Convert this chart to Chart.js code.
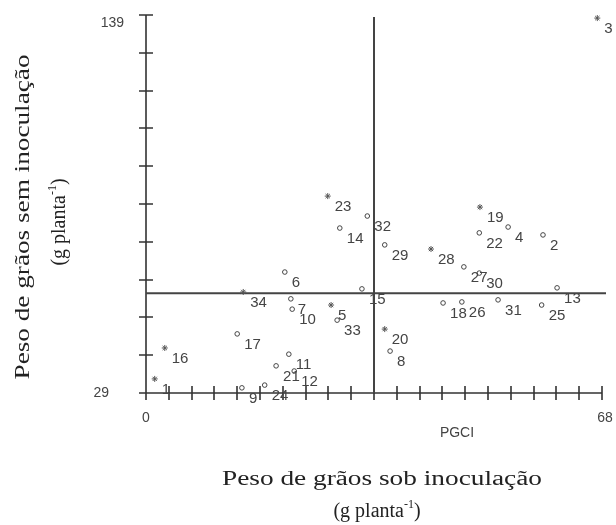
<!DOCTYPE html>
<html>
<head>
<meta charset="utf-8">
<script src="https://cdn.jsdelivr.net/npm/chart.js@4/dist/chart.umd.min.js"></script>
<style>
html,body{margin:0;padding:0;background:#fff;}
canvas{display:block;}
</style>
</head>
<body>
<canvas id="c" width="616" height="525"></canvas>
<script>
// ---- data ----
const pointLabels = ['1','2','3','4','5','6','7','8','9','10','11','12','13','14','15','16','17',
  '18','19','20','21','22','23','24','25','26','27','28','29','30','31','32','33','34'];
const pgci = [1.3,59.2,67.3,54.0,27.6,20.7,21.6,36.4,14.3,21.8,21.3,22.1,61.3,28.9,32.2,2.8,13.6,
  44.3,49.8,35.6,19.4,49.7,27.1,17.7,59.0,47.1,47.4,42.5,35.6,49.7,52.5,33.0,28.5,14.5];
const pgsi = [33.1,75.0,138.1,77.3,54.6,64.2,56.4,41.2,30.5,53.4,40.3,35.4,59.6,77.0,59.3,42.1,46.2,
  55.2,83.1,47.6,36.9,75.6,86.3,31.3,54.6,55.5,65.7,70.9,72.1,63.9,56.1,80.5,50.2,58.4];
const asteriskPoints = ['1','3','5','16','19','20','23','28','34'];
const xTickLabels = ['0','68'];
const yTickLabels = ['29','139'];
const xMin = 0, xMax = 68, xStep = 3.4;
const yMin = 29, yMax = 139, yStep = 11;
const refX = 34;   // vertical reference line
const refY = 58;   // horizontal reference line
const xTitle = ['Peso de grãos sob inoculação', '(g planta', '-1', ')'];
const yTitle = ['Peso de grãos sem inoculação', '(g planta', '-1', ')'];
const xName = 'PGCI';

const circlePts = [], starPts = [];
pointLabels.forEach((l,i)=>{
  const p = {x:pgci[i], y:pgsi[i], label:l};
  (asteriskPoints.includes(l) ? starPts : circlePts).push(p);
});

const INK = '#333';
const SERIF = '"Liberation Serif","Times New Roman",serif';
const SANS = '"Liberation Sans",Arial,sans-serif';

function scaledText(ctx, text, x, y, font, target){
  ctx.font = font;
  const w = ctx.measureText(text).width;
  const s = target ? target / w : 1;
  ctx.save();
  ctx.translate(x, y);
  ctx.scale(s, 1);
  ctx.textAlign = 'center';
  ctx.textBaseline = 'middle';
  ctx.fillText(text, 0, 0);
  ctx.restore();
}
function unitText(ctx, parts, cx, cy, size){
  const f1 = size + 'px ' + SERIF, f2 = Math.round(size*0.6) + 'px ' + SERIF;
  ctx.font = f1; const w1 = ctx.measureText(parts[0]).width; const w3 = ctx.measureText(parts[2]).width;
  ctx.font = f2; const w2 = ctx.measureText(parts[1]).width;
  let x = cx - (w1+w2+w3)/2;
  ctx.textAlign='left'; ctx.textBaseline='middle';
  ctx.font = f1; ctx.fillText(parts[0], x, cy); x += w1;
  ctx.font = f2; ctx.fillText(parts[1], x, cy - size*0.35); x += w2;
  ctx.font = f1; ctx.fillText(parts[2], x, cy);
}

const decor = {
  id:'decor',
  beforeDatasetsDraw(chart){
    const ctx = chart.ctx, xs = chart.scales.x, ys = chart.scales.y;
    const x0 = xs.getPixelForValue(xMin), x1 = xs.getPixelForValue(xMax);
    const y0 = ys.getPixelForValue(yMin), y1 = ys.getPixelForValue(yMax);
    ctx.save();
    ctx.strokeStyle = INK; ctx.lineWidth = 1.6;
    ctx.beginPath();
    ctx.moveTo(x0, y1); ctx.lineTo(x0, y0 + 7);
    ctx.moveTo(x0 - 7, y0); ctx.lineTo(x1, y0);
    for (let v = yMin; v <= yMax + 1e-6; v += yStep){
      const p = Math.round(ys.getPixelForValue(v));
      ctx.moveTo(x0 - 7, p); ctx.lineTo(x0 + 7, p);
    }
    for (let v = xMin; v <= xMax + 1e-6; v += xStep){
      const p = Math.round(xs.getPixelForValue(v));
      ctx.moveTo(p, y0 - 7); ctx.lineTo(p, y0 + 7);
    }
    ctx.stroke();
    ctx.strokeStyle = '#444'; ctx.lineWidth = 2;
    ctx.beginPath();
    const rx = xs.getPixelForValue(refX), ry = ys.getPixelForValue(refY);
    ctx.moveTo(rx, y1 + 2); ctx.lineTo(rx, y0);
    ctx.moveTo(x0, ry); ctx.lineTo(x1 + 4, ry);
    ctx.stroke();
    ctx.restore();
  },
  afterDatasetsDraw(chart){
    const ctx = chart.ctx, xs = chart.scales.x, ys = chart.scales.y;
    ctx.save();
    ctx.fillStyle = '#444';
    ctx.font = '15px ' + SANS;
    ctx.textAlign = 'left'; ctx.textBaseline = 'middle';
    pointLabels.forEach((l,i)=>{
      const px = xs.getPixelForValue(pgci[i]), py = ys.getPixelForValue(pgsi[i]);
      ctx.fillText(l, px + 7, py + 11);
    });
    ctx.font = '14px ' + SANS;
    ctx.textAlign = 'right';
    ctx.fillText(yTickLabels[1], 124, ys.getPixelForValue(yMax) + 8);
    ctx.fillText(yTickLabels[0], 109, ys.getPixelForValue(yMin));
    ctx.textAlign = 'center';
    ctx.fillText(xTickLabels[0], xs.getPixelForValue(xMin), 418);
    ctx.fillText(xTickLabels[1], xs.getPixelForValue(xMax) + 3, 418);
    ctx.fillText(xName, 457, 433);
    ctx.fillStyle = '#222';
    scaledText(ctx, xTitle[0], 382, 480, '20px ' + SERIF, 320);
    unitText(ctx, xTitle.slice(1), 377, 512, 20);
    ctx.save();
    ctx.translate(24, 217); ctx.rotate(-Math.PI/2);
    scaledText(ctx, yTitle[0], 0, 0, '20px ' + SERIF, 325);
    ctx.restore();
    ctx.save();
    ctx.translate(60, 222); ctx.rotate(-Math.PI/2);
    unitText(ctx, yTitle.slice(1), 0, 0, 20);
    ctx.restore();
    ctx.restore();
  }
};

new Chart(document.getElementById('c'), {
  type:'scatter',
  data:{datasets:[
    {data:circlePts, pointStyle:'circle', pointRadius:2.3, borderColor:'#444', backgroundColor:'#fff', borderWidth:1},
    {data:starPts, pointStyle:'star', pointRadius:3, borderColor:'#555', backgroundColor:'#555', borderWidth:1}
  ]},
  options:{
    responsive:false, animation:false, events:[],
    layout:{padding:{left:146, top:15, right:14, bottom:132}},
    plugins:{legend:{display:false}, tooltip:{enabled:false}},
    scales:{
      x:{type:'linear', min:xMin, max:xMax, display:false},
      y:{type:'linear', min:yMin, max:yMax, display:false}
    }
  },
  plugins:[decor]
});
</script>
</body>
</html>
